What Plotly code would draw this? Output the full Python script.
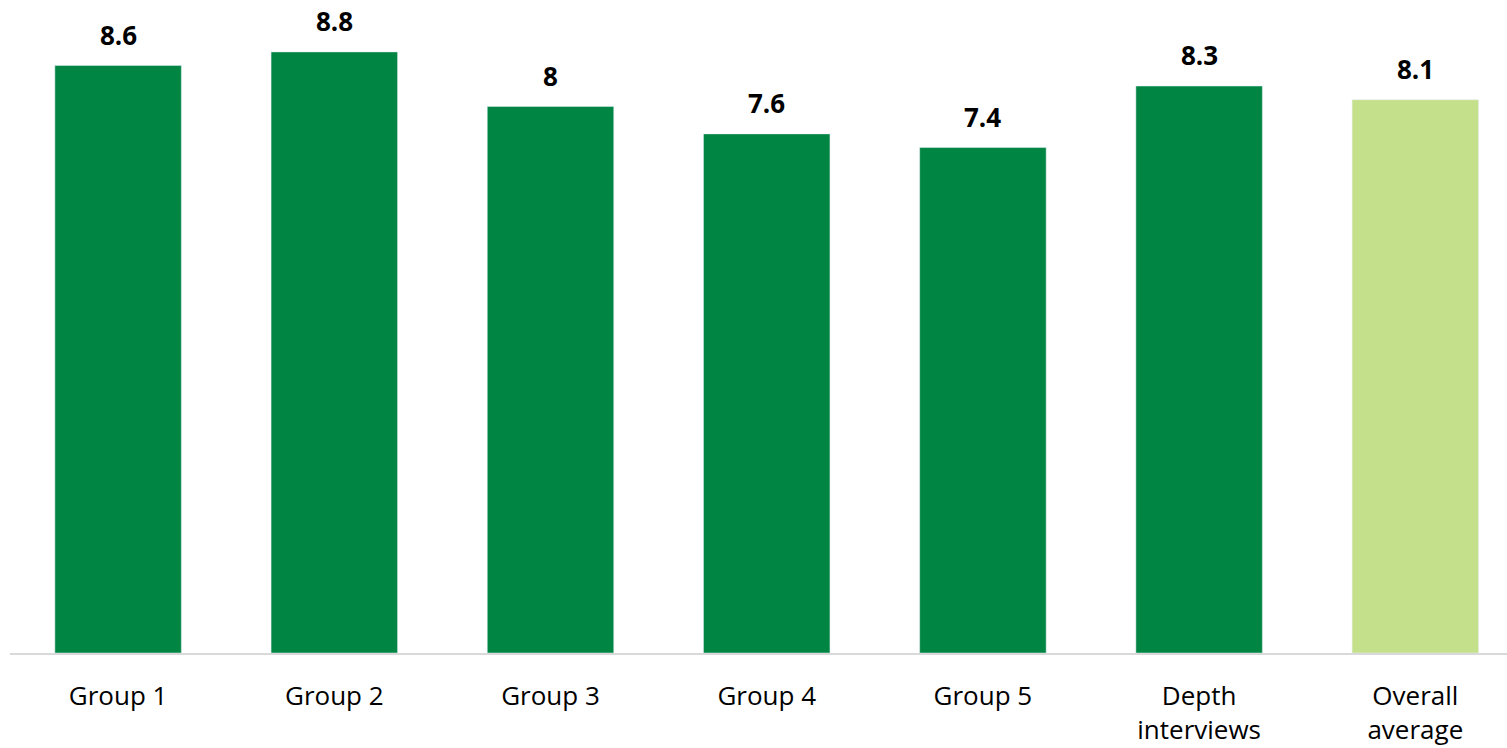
import plotly.graph_objects as go

categories = ["Group 1", "Group 2", "Group 3", "Group 4", "Group 5", "Depth<br>interviews", "Overall<br>average"]
values = [8.6, 8.8, 8.0, 7.6, 7.4, 8.3, 8.1]
labels = ["8.6", "8.8", "8", "7.6", "7.4", "8.3", "8.1"]
colors = ["#008542", "#008542", "#008542", "#008542", "#008542", "#008542", "#c5e08a"]

xs = list(range(len(categories)))
fig = go.Figure(go.Bar(x=xs, y=values, marker_color=colors, width=0.585, cliponaxis=False))
for x, v, t in zip(xs, values, labels):
    fig.add_annotation(x=x, y=v, text=f"<b>{t}</b>", showarrow=False, yanchor="bottom", yshift=11,
                       font=dict(family="Open Sans", size=26, color="#000000"))
fig.update_layout(
    width=1507, height=748, margin=dict(l=10, r=0, t=0, b=95),
    plot_bgcolor="white", paper_bgcolor="white", showlegend=False,
)
fig.update_xaxes(range=[-0.5, 6.424], tickvals=xs, ticktext=categories,
                 showline=True, linecolor="#d9d9d9", linewidth=2, showgrid=False,
                 ticks="outside", ticklen=19, tickcolor="rgba(0,0,0,0)",
                 tickfont=dict(family="Open Sans", size=26, color="#000000"))
fig.update_yaxes(range=[0, 9.56], visible=False)
fig.write_html("out.html")
